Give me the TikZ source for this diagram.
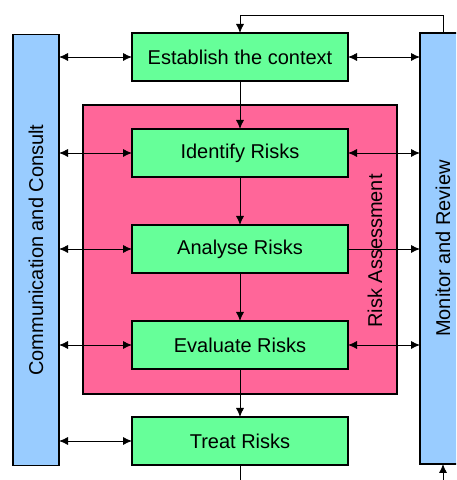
\documentclass[tikz,border=0pt]{standalone}
\usepackage{fontspec}
\setmainfont{Liberation Sans}
\usetikzlibrary{arrows.meta,positioning}
\definecolor{stepgreen}{RGB}{102,255,153}
\definecolor{barblue}{RGB}{153,204,255}
\definecolor{riskpink}{RGB}{255,102,153}

\begin{document}
\begin{tikzpicture}[
  x=1pt,y=1pt,
  node distance=48pt,
  box/.style={rectangle,draw=black,line width=1.6pt,fill=stepgreen,outer sep=0pt,
    minimum width=216pt,minimum height=48pt,font=\fontsize{20}{24}\selectfont,inner sep=0pt},
  bar/.style={rectangle,draw=black,line width=1.6pt,fill=barblue,outer sep=0pt,
    minimum width=46pt,minimum height=431pt},
  lbl/.style={rotate=90,font=\fontsize{20}{24}\selectfont},
  arr/.style={-{Latex[length=9pt,width=8pt]},line width=0.8pt},
  darr/.style={{Latex[length=9pt,width=8pt]}-{Latex[length=9pt,width=8pt]},line width=0.8pt},
]
  \useasboundingbox (0,0) rectangle (456,480);
  \clip (0,0) rectangle (456,480);
  \node[rectangle,draw=black,line width=1.6pt,fill=riskpink,
    minimum width=314pt,minimum height=289pt] (assess) at (240,230.5) {};
  \node[lbl] (assesslbl) at (375,229) {Risk Assessment};
  \node[box] (estab) at (240,423) {Establish the context};
  \node[box,below=of estab] (ident) {Identify Risks};
  \node[box,below=of ident] (analyse) {Analyse Risks};
  \node[box,below=of analyse] (evaluate) {Evaluate Risks};
  \node[box,below=of evaluate] (treat) {Treat Risks};
  \node[bar] (lbar) at (36,230) {};
  \node[bar] (rbar) at (443,231.5) {};
  \node[lbl] (lbarlbl) at (lbar.center) {Communication and Consult};
  \node[lbl] (rbarlbl) at (rbar.center) {Monitor and Review};
  \coordinate (tail) at (treat.south |- 0,0);
  \coordinate (ret) at (rbar.south |- 0,0);
  \draw[arr] (estab) -- (ident); \draw[arr] (ident) -- (analyse);
  \draw[arr] (analyse) -- (evaluate); \draw[arr] (evaluate) -- (treat);
  \draw[line width=0.8pt] (treat.south) -- (tail);
  \draw[arr] (ret) -- (rbar.south);
  \draw[arr] (rbar.north) -- ++(0,18) -| (estab.north);
  \foreach \n in {estab,ident,analyse,evaluate,treat}
    \draw[darr] (lbar.east |- \n.west) -- (\n.west);
  \foreach \n in {estab,ident,evaluate}
    \draw[darr] (\n.east) -- (\n.east -| rbar.west);
  \draw[arr] (analyse.east) -- (analyse.east -| rbar.west);
\end{tikzpicture}
\end{document}
